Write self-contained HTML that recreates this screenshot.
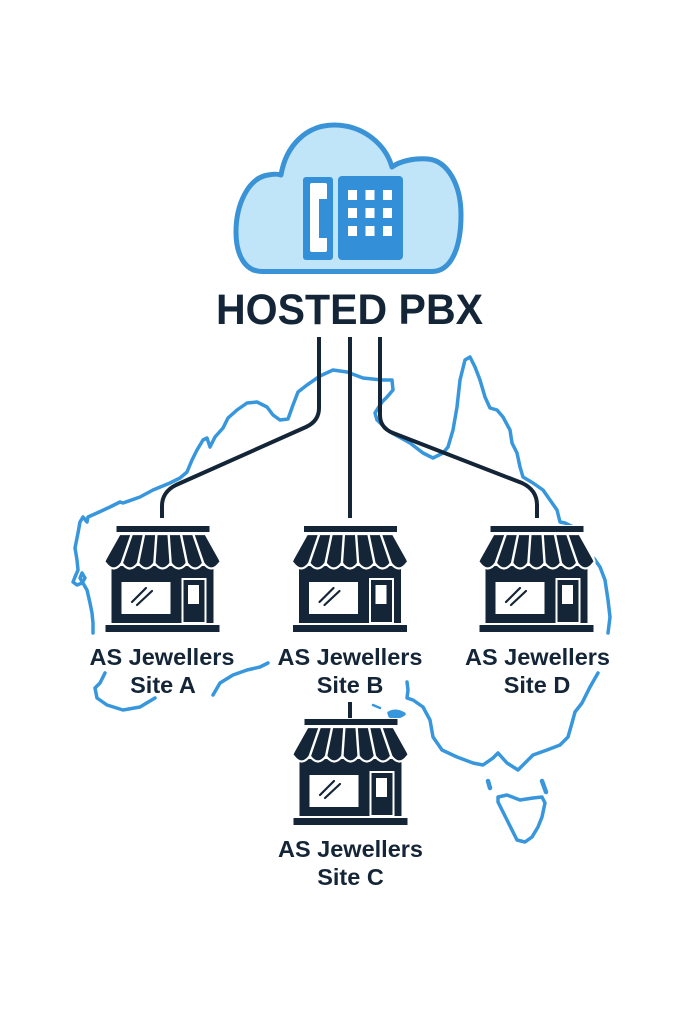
<!DOCTYPE html>
<html>
<head>
<meta charset="utf-8">
<style>
  html, body { margin: 0; padding: 0; background: #ffffff; }
  svg { display: block; }
  .lbl { font-family: "Liberation Sans", sans-serif; font-weight: bold; font-size: 23.5px; fill: #142537; }
</style>
</head>
<body>
<svg width="683" height="1024" viewBox="0 0 683 1024" xmlns="http://www.w3.org/2000/svg">
  <rect x="0" y="0" width="683" height="1024" fill="#ffffff"/>

  <!-- Australia coastline -->
  <g fill="none" stroke="#3897dc" stroke-width="3.5" stroke-linecap="round" stroke-linejoin="round">
    <path d="M382 402 L387 397 L393 390 L392 380 L382 380 L363 378 L347 372 L333 370 L320 376 L307 385 L298 392 L293 405 L288 419 L280 420 L273 415 L267 407 L257 402 L247 403 L237 410 L228 418 L223 428 L215 437 L210 447 L207 438 L203 440 L197 450 L192 460 L187 472 L180 478 L170 483 L153 490 L140 497 L123 503 L120 502 L110 507 L97 513 L88 517 L87 522 L83 517 L80 522 L78 533 L75 548 L77 560 L78 570 L75 577 L73 582 L77 585 L82 583 L85 578 L82 573 L80 578 L87 590 L90 603 L92 613 L93 623 L93 633"/>
    <path d="M382 402 L375 413 L377 420 L390 432 L410 443 L423 453 L433 458 L443 453 L448 447 L453 430 L457 407 L460 380 L465 360 L470 357 L475 367 L480 380 L485 397 L490 408 L497 410 L503 417 L510 430 L512 443 L517 453 L520 467 L523 477 L533 483 L543 490 L550 500 L557 510 L560 522 L565 523 L573 527 L585 540 L593 557 L600 567 L605 580 L608 600 L610 617 L608 633"/>
    <path d="M598 673 L590 687 L582 703 L575 712 L572 723 L568 737 L560 745 L547 750 L533 755 L523 765 L518 770 L507 763 L498 753 L493 758 L483 765 L473 763 L457 757 L442 750 L433 737 L430 720 L423 707 L413 700 L407 698 L408 690 L407 682"/>
    <path d="M105 673 L100 683 L95 688 L97 698 L107 705 L123 710 L140 707 L155 698"/>
    <path d="M213 695 L220 683 L233 675 L247 670 L260 667 L268 663"/>
    <path d="M373 705 L380 708" stroke-width="2.5"/>
    <path d="M389 713 Q396 709 404 714 Q397 719 390 716 Z" fill="#3897dc"/>
    <path d="M498 797 L507 795 L520 800 L533 798 L542 797 L545 803 L542 817 L538 827 L532 837 L525 842 L517 840 L512 830 L507 820 L502 810 L498 802 Z"/>
    <path d="M488 781 L490 788" stroke-width="4.5"/>
    <path d="M542 781 L546 792" stroke-width="4.5"/>
  </g>

  <!-- Cloud -->
  <path d="M262 271.5 C245 271.5 236 255 236 232 C236 205 248 178 268 175 C273 174 278 174 281 175 C286 145 307 125 334 125 C362 125 385 143 392 167 C400 161 414 158 428 159 C448 161 461 185 461 215 C461 250 450 271.5 432 271.5 Z"
        fill="#c0e4f8" stroke="#3993d6" stroke-width="5" stroke-linejoin="round"/>
  <rect x="303" y="177" width="30" height="83" rx="3" fill="#3390d8"/>
  <rect x="310" y="183" width="17" height="69" rx="2" fill="#ffffff"/>
  <rect x="319" y="199" width="9" height="39" fill="#3390d8"/>
  <rect x="338" y="176" width="65" height="84" rx="4" fill="#3390d8"/>
  <g fill="#ffffff">
    <rect x="348" y="190" width="9" height="10"/>
    <rect x="365.5" y="190" width="9" height="10"/>
    <rect x="383" y="190" width="9" height="10"/>
    <rect x="348" y="208" width="9" height="10"/>
    <rect x="365.5" y="208" width="9" height="10"/>
    <rect x="383" y="208" width="9" height="10"/>
    <rect x="348" y="226" width="9" height="10"/>
    <rect x="365.5" y="226" width="9" height="10"/>
    <rect x="383" y="226" width="9" height="10"/>
  </g>

  <text x="349.5" y="324" text-anchor="middle" font-family="Liberation Sans, sans-serif" font-weight="bold" font-size="43" fill="#142537" textLength="267" lengthAdjust="spacingAndGlyphs">HOSTED PBX</text>

  <g fill="none" stroke="#142537" stroke-width="4" stroke-linecap="butt" stroke-linejoin="round">
    <path d="M319 337 L319 408 Q319 421 306 427 L176 485 Q162 492 162 506 L162 518"/>
    <path d="M350 337 L350 518"/>
    <path d="M380 337 L380 415 Q380 428 393 433 L522 483 Q537 490 537 505 L537 518"/>
    <path d="M350 702 L350 720"/>
  </g>

  <!-- Store A -->
  <g transform="translate(162.5,526)">
    <rect x="-58" y="-1" width="116" height="108" fill="#ffffff"/>
    <rect x="-46" y="0" width="93" height="6" fill="#142537"/>
    <rect x="-51" y="40" width="102" height="57" fill="#142537"/>
    <path d="M-43 8 L43 8 L57 33 Q59 37 57 37 Q48.86 48 40.71 37 Q32.57 48 24.43 37 Q16.29 48 8.14 37 Q0 48 -8.14 37 Q-16.29 48 -24.43 37 Q-32.57 48 -40.71 37 Q-48.86 48 -57 37 Q-59 37 -57 33 Z" fill="#142537" stroke="#ffffff" stroke-width="2.2" stroke-linejoin="round"/>
    <g stroke="#ffffff" stroke-width="2.4">
      <line x1="-30.7" y1="8" x2="-40.7" y2="37"/>
      <line x1="-18.4" y1="8" x2="-24.4" y2="37"/>
      <line x1="-6.1" y1="8" x2="-8.1" y2="37"/>
      <line x1="6.1" y1="8" x2="8.1" y2="37"/>
      <line x1="18.4" y1="8" x2="24.4" y2="37"/>
      <line x1="30.7" y1="8" x2="40.7" y2="37"/>
    </g>
    <rect x="-57" y="99" width="114" height="7" fill="#142537"/>
    <rect x="-41" y="56" width="49" height="32" fill="#ffffff"/>
    <g stroke="#142537" stroke-width="2.2" stroke-linecap="round">
      <line x1="-30.5" y1="76" x2="-16.5" y2="62"/>
      <line x1="-25.5" y1="79" x2="-10.5" y2="65"/>
    </g>
    <rect x="20" y="53" width="23" height="44" fill="#142537" stroke="#ffffff" stroke-width="2"/>
    <rect x="25.5" y="59" width="11" height="19" fill="#ffffff"/>
  </g>

  <!-- Store B -->
  <g transform="translate(350,526)">
    <rect x="-58" y="-1" width="116" height="108" fill="#ffffff"/>
    <rect x="-46" y="0" width="93" height="6" fill="#142537"/>
    <rect x="-51" y="40" width="102" height="57" fill="#142537"/>
    <path d="M-43 8 L43 8 L57 33 Q59 37 57 37 Q48.86 48 40.71 37 Q32.57 48 24.43 37 Q16.29 48 8.14 37 Q0 48 -8.14 37 Q-16.29 48 -24.43 37 Q-32.57 48 -40.71 37 Q-48.86 48 -57 37 Q-59 37 -57 33 Z" fill="#142537" stroke="#ffffff" stroke-width="2.2" stroke-linejoin="round"/>
    <g stroke="#ffffff" stroke-width="2.4">
      <line x1="-30.7" y1="8" x2="-40.7" y2="37"/>
      <line x1="-18.4" y1="8" x2="-24.4" y2="37"/>
      <line x1="-6.1" y1="8" x2="-8.1" y2="37"/>
      <line x1="6.1" y1="8" x2="8.1" y2="37"/>
      <line x1="18.4" y1="8" x2="24.4" y2="37"/>
      <line x1="30.7" y1="8" x2="40.7" y2="37"/>
    </g>
    <rect x="-57" y="99" width="114" height="7" fill="#142537"/>
    <rect x="-41" y="56" width="49" height="32" fill="#ffffff"/>
    <g stroke="#142537" stroke-width="2.2" stroke-linecap="round">
      <line x1="-30.5" y1="76" x2="-16.5" y2="62"/>
      <line x1="-25.5" y1="79" x2="-10.5" y2="65"/>
    </g>
    <rect x="20" y="53" width="23" height="44" fill="#142537" stroke="#ffffff" stroke-width="2"/>
    <rect x="25.5" y="59" width="11" height="19" fill="#ffffff"/>
  </g>

  <!-- Store D -->
  <g transform="translate(536.5,526)">
    <rect x="-58" y="-1" width="116" height="108" fill="#ffffff"/>
    <rect x="-46" y="0" width="93" height="6" fill="#142537"/>
    <rect x="-51" y="40" width="102" height="57" fill="#142537"/>
    <path d="M-43 8 L43 8 L57 33 Q59 37 57 37 Q48.86 48 40.71 37 Q32.57 48 24.43 37 Q16.29 48 8.14 37 Q0 48 -8.14 37 Q-16.29 48 -24.43 37 Q-32.57 48 -40.71 37 Q-48.86 48 -57 37 Q-59 37 -57 33 Z" fill="#142537" stroke="#ffffff" stroke-width="2.2" stroke-linejoin="round"/>
    <g stroke="#ffffff" stroke-width="2.4">
      <line x1="-30.7" y1="8" x2="-40.7" y2="37"/>
      <line x1="-18.4" y1="8" x2="-24.4" y2="37"/>
      <line x1="-6.1" y1="8" x2="-8.1" y2="37"/>
      <line x1="6.1" y1="8" x2="8.1" y2="37"/>
      <line x1="18.4" y1="8" x2="24.4" y2="37"/>
      <line x1="30.7" y1="8" x2="40.7" y2="37"/>
    </g>
    <rect x="-57" y="99" width="114" height="7" fill="#142537"/>
    <rect x="-41" y="56" width="49" height="32" fill="#ffffff"/>
    <g stroke="#142537" stroke-width="2.2" stroke-linecap="round">
      <line x1="-30.5" y1="76" x2="-16.5" y2="62"/>
      <line x1="-25.5" y1="79" x2="-10.5" y2="65"/>
    </g>
    <rect x="20" y="53" width="23" height="44" fill="#142537" stroke="#ffffff" stroke-width="2"/>
    <rect x="25.5" y="59" width="11" height="19" fill="#ffffff"/>
  </g>

  <!-- Store C -->
  <g transform="translate(350.5,719)">
    <rect x="-58" y="-1" width="116" height="108" fill="#ffffff"/>
    <rect x="-46" y="0" width="93" height="6" fill="#142537"/>
    <rect x="-51" y="40" width="102" height="57" fill="#142537"/>
    <path d="M-43 8 L43 8 L57 33 Q59 37 57 37 Q48.86 48 40.71 37 Q32.57 48 24.43 37 Q16.29 48 8.14 37 Q0 48 -8.14 37 Q-16.29 48 -24.43 37 Q-32.57 48 -40.71 37 Q-48.86 48 -57 37 Q-59 37 -57 33 Z" fill="#142537" stroke="#ffffff" stroke-width="2.2" stroke-linejoin="round"/>
    <g stroke="#ffffff" stroke-width="2.4">
      <line x1="-30.7" y1="8" x2="-40.7" y2="37"/>
      <line x1="-18.4" y1="8" x2="-24.4" y2="37"/>
      <line x1="-6.1" y1="8" x2="-8.1" y2="37"/>
      <line x1="6.1" y1="8" x2="8.1" y2="37"/>
      <line x1="18.4" y1="8" x2="24.4" y2="37"/>
      <line x1="30.7" y1="8" x2="40.7" y2="37"/>
    </g>
    <rect x="-57" y="99" width="114" height="7" fill="#142537"/>
    <rect x="-41" y="56" width="49" height="32" fill="#ffffff"/>
    <g stroke="#142537" stroke-width="2.2" stroke-linecap="round">
      <line x1="-30.5" y1="76" x2="-16.5" y2="62"/>
      <line x1="-25.5" y1="79" x2="-10.5" y2="65"/>
    </g>
    <rect x="20" y="53" width="23" height="44" fill="#142537" stroke="#ffffff" stroke-width="2"/>
    <rect x="25.5" y="59" width="11" height="19" fill="#ffffff"/>
  </g>

  <text class="lbl" x="162" y="665" text-anchor="middle" textLength="145" lengthAdjust="spacingAndGlyphs">AS Jewellers</text>
  <text class="lbl" x="163" y="693" text-anchor="middle">Site A</text>

  <text class="lbl" x="350" y="665" text-anchor="middle" textLength="145" lengthAdjust="spacingAndGlyphs">AS Jewellers</text>
  <text class="lbl" x="350" y="693" text-anchor="middle">Site B</text>

  <text class="lbl" x="537.5" y="665" text-anchor="middle" textLength="145" lengthAdjust="spacingAndGlyphs">AS Jewellers</text>
  <text class="lbl" x="537" y="693" text-anchor="middle">Site D</text>

  <text class="lbl" x="350.5" y="857" text-anchor="middle" textLength="145" lengthAdjust="spacingAndGlyphs">AS Jewellers</text>
  <text class="lbl" x="350.5" y="885" text-anchor="middle">Site C</text>
</svg>
</body>
</html>
